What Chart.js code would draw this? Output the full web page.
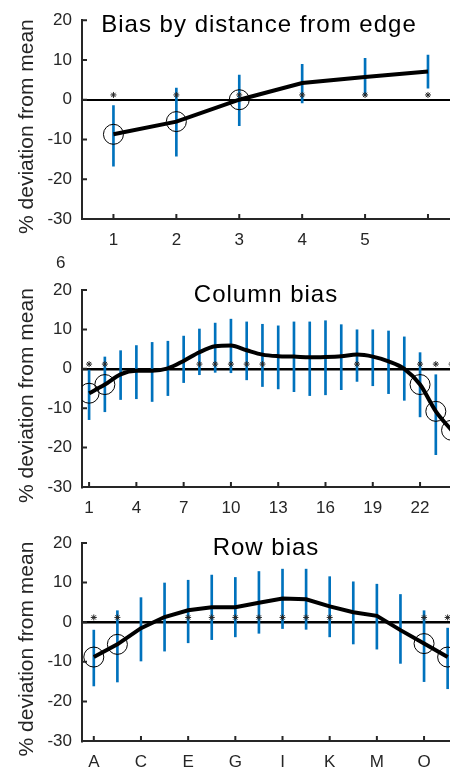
<!DOCTYPE html>
<html>
<head>
<meta charset="utf-8">
<script src="https://cdn.jsdelivr.net/npm/chart.js@4.4.1/dist/chart.umd.min.js"></script>
<style>
  html, body { margin: 0; padding: 0; background: #fff; }
  body { width: 450px; height: 768px; overflow: hidden; position: relative; font-family: 'Liberation Sans', Arial, sans-serif; }
  .panel { position: absolute; left: 0; width: 450px; }
  #panel1 { top: 0; height: 256px; }
  #panel2 { top: 256px; height: 268px; }
  #panel3 { top: 512px; height: 266px; }
  .stray { position: absolute; left: 56px; top: 253px; font-size: 17px; line-height: 20px; color: #262626; }
</style>
</head>
<body>
<div class="panel" id="panel1"><canvas id="edgeChart"></canvas></div>
<div class="panel" id="panel2"><canvas id="columnChart"></canvas></div>
<div class="panel" id="panel3"><canvas id="rowChart"></canvas></div>
<div class="stray">6</div>
<script>
const yTicks = [-30, -20, -10, 0, 10, 20];
const starLevel = 1.2;

// distance from edge
const edgeX = [1, 2, 3, 4, 5, 6];
const edgeMean = [-8.7, -5.5, 0.0, 4.2, 5.7, 7.1];
const edgeLow = [-16.7, -14.2, -6.5, -0.8, 1.0, 2.9];
const edgeHigh = [-1.5, 2.9, 6.2, 8.9, 10.4, 11.2];
const edgeStars = [1, 2, 3, 4, 5, 6];
const edgeCircles = [1, 2, 3];
const edgeTicks = [1, 2, 3, 4, 5, 6];
const edgeTickLabels = ['1', '2', '3', '4', '5', ''];

// columns 1..24
const colX = [1, 2, 3, 4, 5, 6, 7, 8, 9, 10, 11, 12, 13, 14, 15, 16, 17, 18, 19, 20, 21, 22, 23, 24];
const colMean = [-6.2, -4.0, -1.4, -0.5, -0.5, 0.1, 2.0, 4.2, 5.7, 5.9, 4.7, 3.6, 3.2, 3.1, 2.9, 3.0, 3.2, 3.6, 3.1, 1.9, 0.0, -4.0, -10.8, -15.6];
const colLow = [-12.9, -10.9, -7.8, -7.6, -8.3, -6.8, -3.5, -1.5, -0.9, -1.0, -2.8, -4.5, -5.1, -5.8, -6.8, -6.6, -5.3, -3.2, -4.3, -6.3, -8.0, -12.2, -21.8, -24.0];
const colHigh = [0.0, 3.0, 4.6, 5.9, 6.7, 7.0, 8.3, 10.1, 11.6, 12.6, 11.9, 11.3, 10.9, 11.9, 11.9, 12.2, 11.2, 9.9, 9.9, 9.6, 8.1, 4.1, -1.5, -7.0];
const colStars = [1, 2, 8, 9, 10, 11, 12, 18, 22, 23, 24];
const colCircles = [1, 2, 22, 23, 24];
const colTicks = [1, 4, 7, 10, 13, 16, 19, 22];
const colTickLabels = ['1', '4', '7', '10', '13', '16', '19', '22'];

// rows A..P
const rowX = [1, 2, 3, 4, 5, 6, 7, 8, 9, 10, 11, 12, 13, 14, 15, 16];
const rowMean = [-8.8, -5.6, -1.5, 1.3, 3.0, 3.8, 3.8, 4.9, 6.0, 5.8, 4.0, 2.5, 1.6, -2.0, -5.4, -8.8];
const rowLow = [-16.1, -15.1, -9.8, -7.3, -5.2, -4.4, -3.7, -2.8, -1.6, -1.8, -3.7, -5.5, -6.8, -10.4, -15.0, -16.8];
const rowHigh = [-2.0, 2.9, 6.2, 9.9, 10.6, 11.9, 11.3, 12.8, 13.4, 13.4, 11.5, 10.2, 9.6, 7.0, 2.9, -1.5];
const rowStars = [1, 2, 5, 6, 7, 8, 9, 10, 11, 15, 16];
const rowCircles = [1, 2, 15, 16];
const rowTicks = [1, 3, 5, 7, 9, 11, 13, 15];
const rowTickLabels = ['A', 'C', 'E', 'G', 'I', 'K', 'M', 'O'];

const axisColor = '#262626';
const fontFamily = "'Liberation Sans', Arial, sans-serif";

// matlab style ticks point into the axes, plus title and ylabel drawn over the plot
const panelText = {
    id: 'panelText',
    afterDraw(chart, args, opts) {
        const ctx = chart.ctx;
        const area = chart.chartArea;
        const xs = chart.scales.x;
        const ys = chart.scales.y;
        ctx.save();
        ctx.strokeStyle = axisColor;
        ctx.lineWidth = 2;
        ctx.beginPath();
        ys.ticks.forEach(t => {
            const y = ys.getPixelForValue(t.value);
            ctx.moveTo(area.left, y);
            ctx.lineTo(area.left + 5, y);
        });
        xs.ticks.forEach(t => {
            const x = xs.getPixelForValue(t.value);
            ctx.moveTo(x, area.bottom);
            ctx.lineTo(x, area.bottom - 5);
        });
        ctx.stroke();

        ctx.fillStyle = '#000';
        ctx.font = '24px ' + fontFamily;
        ctx.letterSpacing = '1px';
        ctx.textAlign = 'center';
        ctx.textBaseline = 'alphabetic';
        ctx.fillText(opts.title, (area.left + area.right) / 2 + (opts.shift || 0), area.top + 12);

        ctx.letterSpacing = '0px';
        ctx.fillStyle = axisColor;
        ctx.font = '21px ' + fontFamily;
        ctx.translate(33, (area.top + area.bottom) / 2 + 7);
        ctx.rotate(-Math.PI / 2);
        ctx.fillText('% deviation from mean', 0, 0);
        ctx.restore();
    }
};

function buildChart(canvasId, p) {
    const ctx = document.getElementById(canvasId).getContext('2d');
    const meanAt = x => p.mean[p.x.indexOf(x)];

    const config = {
        type: 'line',
        data: {
            datasets: [
                {
                    type: 'scatter',
                    data: p.stars.map(x => ({ x: x, y: starLevel })),
                    pointStyle: 'star',
                    pointRadius: 3,
                    borderColor: axisColor,
                    borderWidth: 1,
                    order: 0
                },
                {
                    type: 'scatter',
                    data: p.circles.map(x => ({ x: x, y: meanAt(x) })),
                    pointStyle: 'circle',
                    pointRadius: 10,
                    borderColor: '#000',
                    borderWidth: 1,
                    backgroundColor: 'rgba(0,0,0,0)',
                    order: 1
                },
                {
                    type: 'line',
                    data: p.x.map((x, i) => ({ x: x, y: p.mean[i] })),
                    borderColor: '#000',
                    borderWidth: 4,
                    pointRadius: 0,
                    cubicInterpolationMode: p.smooth ? 'monotone' : 'default',
                    order: 2
                },
                {
                    type: 'bar',
                    data: p.x.map((x, i) => ({ x: x, y: [p.low[i], p.high[i]] })),
                    backgroundColor: '#0072BD',
                    borderWidth: 0,
                    barThickness: 2,
                    order: 3
                }
            ]
        },
        options: {
            responsive: true,
            maintainAspectRatio: false,
            animation: false,
            events: [],
            layout: { autoPadding: false, padding: { top: p.top, left: 0, right: 0, bottom: 0 } },
            plugins: {
                legend: { display: false },
                tooltip: { enabled: false },
                panelText: { title: p.title, shift: p.titleShift }
            },
            scales: {
                x: {
                    type: 'linear',
                    min: p.xMin,
                    max: p.xMax,
                    offset: false,
                    afterBuildTicks: axis => { axis.ticks = p.ticks.map(v => ({ value: v })); },
                    afterFit: axis => {
                        axis.height = 37;
                        axis.paddingLeft = 0;
                        axis.paddingRight = 0;
                    },
                    grid: { display: false, drawTicks: false },
                    border: { color: axisColor, width: 2 },
                    ticks: {
                        autoSkip: false,
                        maxRotation: 0,
                        padding: 11,
                        color: axisColor,
                        font: { family: fontFamily, size: 17 },
                        callback: value => p.labels[p.ticks.indexOf(value)]
                    }
                },
                y: {
                    type: 'linear',
                    min: -30,
                    max: 20,
                    afterBuildTicks: axis => { axis.ticks = yTicks.map(v => ({ value: v })); },
                    afterFit: axis => { axis.width = 82; },
                    grid: {
                        drawTicks: false,
                        color: c => (c.tick && c.tick.value === 0) ? '#000' : 'rgba(0,0,0,0)',
                        lineWidth: p.zeroWidth
                    },
                    border: { color: axisColor, width: 2 },
                    ticks: {
                        padding: 10,
                        color: axisColor,
                        font: { family: fontFamily, size: 17 }
                    }
                }
            }
        },
        plugins: [panelText]
    };

    return new Chart(ctx, config);
}

buildChart('edgeChart', {
    title: 'Bias by distance from edge', titleShift: -7,
    x: edgeX, mean: edgeMean, low: edgeLow, high: edgeHigh,
    stars: edgeStars, circles: edgeCircles,
    ticks: edgeTicks, labels: edgeTickLabels,
    xMin: 0.5, xMax: 6.35, top: 19, zeroWidth: 2, smooth: false
});

buildChart('columnChart', {
    title: 'Column bias', titleShift: 0,
    x: colX, mean: colMean, low: colLow, high: colHigh,
    stars: colStars, circles: colCircles,
    ticks: colTicks, labels: colTickLabels,
    xMin: 0.55, xMax: 23.9, top: 34, zeroWidth: 2.5, smooth: true
});

buildChart('rowChart', {
    title: 'Row bias', titleShift: 0,
    x: rowX, mean: rowMean, low: rowLow, high: rowHigh,
    stars: rowStars, circles: rowCircles,
    ticks: rowTicks, labels: rowTickLabels,
    xMin: 0.5, xMax: 16.1, top: 31, zeroWidth: 2.5, smooth: false
});
</script>
</body>
</html>
